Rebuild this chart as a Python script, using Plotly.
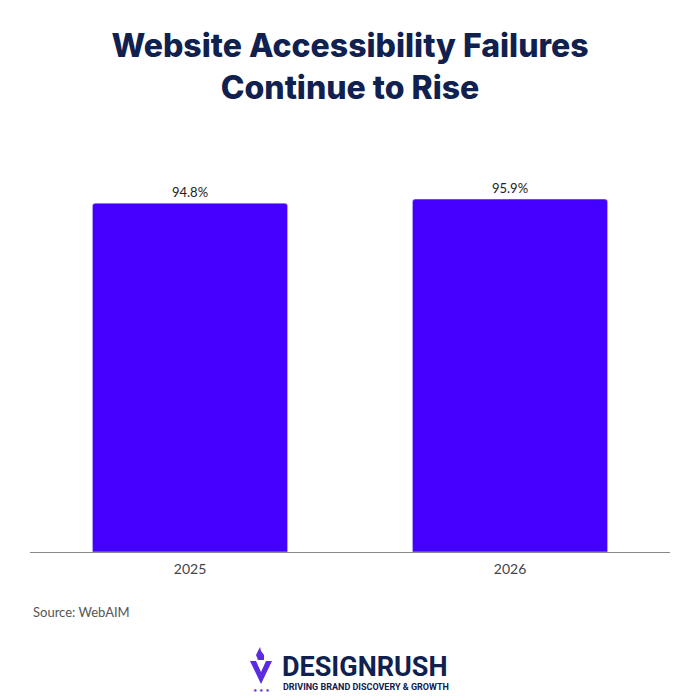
import plotly.graph_objects as go

years = ["2025", "2026"]
failure_rates = [94.8, 95.9]
bar_labels = ["94.8%", "95.9%"]

title_text = "Website Accessibility Failures<br>Continue to Rise"
source_text = "Source: WebAIM"

BAR_COLOR = "#4400FF"
NAVY = "#10204F"

# page has an 8px body margin, so the figure is 692 and sits at (8, 8)
W = H = 692
OFF = 8
# plot area on screen: x 30..670, y 184..552
L, R, T, B = 30 - OFF, W - (670 - OFF), 184 - OFF, H - (552 - OFF)


def px(x, y):
    # screen pixel -> paper coords
    x, y = x - OFF, y - OFF
    return (x - L) / (W - L - R), (H - B - y) / (H - T - B)


fig = go.Figure()
fig.add_trace(go.Bar(
    x=years,
    y=failure_rates,
    text=bar_labels,
    textposition="outside",
    cliponaxis=False,
    textfont=dict(family="Lato", size=13, color="#222222"),
    marker=dict(color=BAR_COLOR, cornerradius=3),
    hoverinfo="skip",
))

# little logo mark (flame + V)
v = [px(250, 661), px(261, 684), px(272, 661), px(266, 661), px(261, 672), px(256, 661)]
v_path = "M " + " L ".join(f"{a},{b}" for a, b in v) + " Z"
f = [px(258, 660), px(256, 655), px(260, 647), px(261, 651), px(264, 655), px(264, 660)]
f_path = "M " + " L ".join(f"{a},{b}" for a, b in f) + " Z"

shapes = [
    dict(type="path", xref="paper", yref="paper", path=v_path,
         fillcolor="#5B2BE0", line=dict(width=0)),
    dict(type="path", xref="paper", yref="paper", path=f_path,
         fillcolor="#5B2BE0", line=dict(width=0)),
]

sx, sy = px(31, 612)
lx, ly = px(280, 667)
ux, uy = px(281, 687)
stx, sty = px(261, 690)

fig.update_layout(
    width=W,
    height=H,
    margin=dict(l=L, r=R, t=T, b=B),
    paper_bgcolor="white",
    plot_bgcolor="white",
    showlegend=False,
    bargap=0.39,
    title=dict(
        text=title_text,
        x=(350 - OFF) / W, xanchor="center", xref="container",
        y=1 - (57 - OFF) / H, yanchor="middle", yref="container",
        font=dict(family="Inter", size=32, color=NAVY, weight=800),
    ),
    xaxis=dict(
        showline=True, linecolor="#888888", linewidth=1,
        ticks="", showgrid=False, ticklabelstandoff=4,
        tickfont=dict(family="Lato", size=14, color="#444444"),
    ),
    yaxis=dict(range=[0, 100], visible=False, showgrid=False),
    shapes=shapes,
    annotations=[
        dict(text=source_text, xref="paper", yref="paper", x=sx, y=sy,
             xanchor="left", yanchor="middle", showarrow=False,
             font=dict(family="Lato", size=13, color="#555555")),
        dict(text="<b>DESIGNRUSH</b>", xref="paper", yref="paper", x=lx, y=ly,
             xanchor="left", yanchor="middle", showarrow=False,
             font=dict(family="Roboto", size=27, color=NAVY)),
        dict(text="<b>DRIVING BRAND DISCOVERY & GROWTH</b>", xref="paper", yref="paper",
             x=ux, y=uy, xanchor="left", yanchor="middle", showarrow=False,
             font=dict(family="Roboto", size=9, color=NAVY)),
        dict(text="★ ★ ★", xref="paper", yref="paper", x=stx, y=sty,
             xanchor="center", yanchor="middle", showarrow=False,
             font=dict(family="DejaVu Sans", size=5, color="#5B2BE0")),
    ],
)

fig.write_html("out.html")
